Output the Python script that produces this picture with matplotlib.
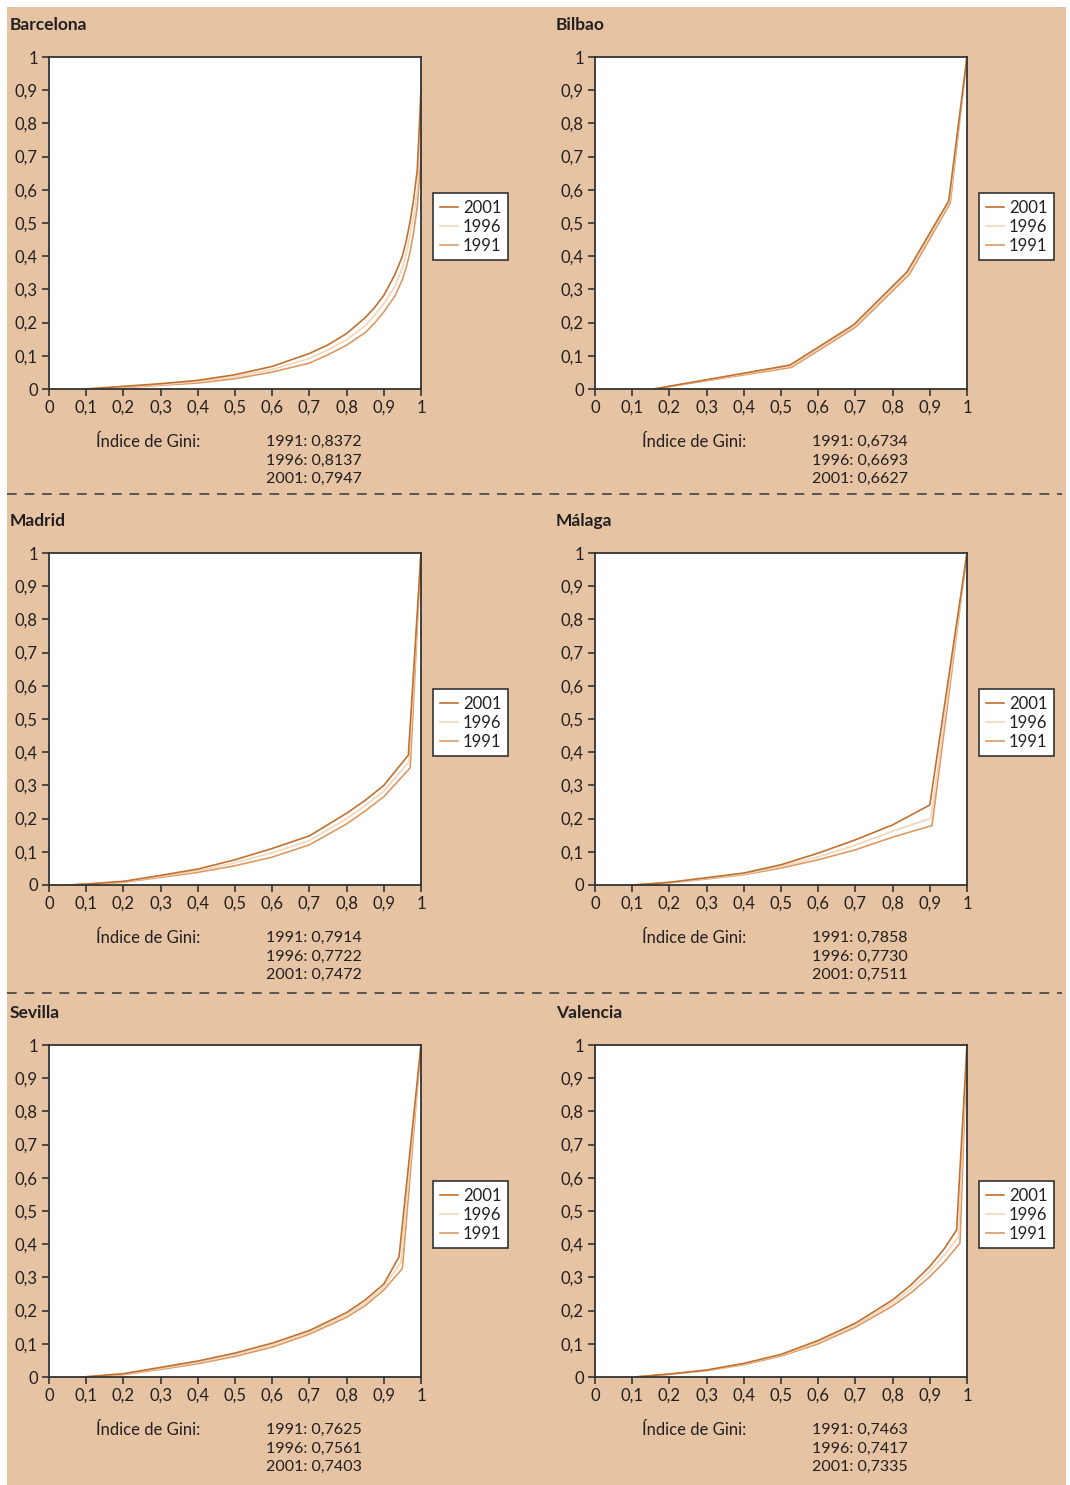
import numpy as np
import matplotlib
matplotlib.use("Agg")
import matplotlib.pyplot as plt
from matplotlib.patches import Rectangle
from matplotlib.lines import Line2D

plt.rcParams['font.family'] = ['Lato', 'DejaVu Sans']

# Curvas de Lorenz (x, y por año)
years = ['2001', '1996', '1991']
colors = {'2001': '#C0712F', '1996': '#F3D5BC', '1991': '#DC9A62'}

xs_10 = [0.2, 0.3, 0.4, 0.5, 0.6, 0.7, 0.8, 0.9]

barcelona_x = [0.2, 0.3, 0.4, 0.5, 0.6, 0.7, 0.75, 0.8, 0.85, 0.875, 0.9, 0.93, 0.95, 0.96,
               0.97, 0.98, 0.99, 1.0]
barcelona = {
    '2001': ([0.097] + barcelona_x, [0, 0.008, 0.016, 0.026, 0.043, 0.068, 0.107, 0.133, 0.167, 0.215,
                                     0.245, 0.282, 0.345, 0.40, 0.445, 0.50, 0.57, 0.66, 0.90]),
    '1996': ([0.12] + barcelona_x, [0, 0.006, 0.013, 0.022, 0.037, 0.059, 0.092, 0.118, 0.149, 0.19,
                                    0.222, 0.257, 0.31, 0.365, 0.405, 0.46, 0.52, 0.60, 0.80]),
    '1991': ([0.143] + barcelona_x, [0, 0.004, 0.011, 0.018, 0.031, 0.051, 0.078, 0.103, 0.132, 0.17,
                                     0.198, 0.232, 0.28, 0.33, 0.365, 0.41, 0.47, 0.55, 0.70]),
}
bilbao = {
    '2001': ([0.158, 0.524, 0.695, 0.839, 0.951, 1.0], [0, 0.072, 0.193, 0.353, 0.567, 1.0]),
    '1996': ([0.158, 0.526, 0.698, 0.842, 0.953, 1.0], [0, 0.069, 0.190, 0.349, 0.564, 1.0]),
    '1991': ([0.158, 0.528, 0.700, 0.845, 0.955, 1.0], [0, 0.065, 0.186, 0.345, 0.560, 1.0]),
}
madrid_x = [0.1, 0.2, 0.3, 0.4, 0.5, 0.6, 0.7, 0.8, 0.85, 0.9]
madrid = {
    '2001': ([0.055] + madrid_x + [0.966, 1.0], [0, 0.003, 0.011, 0.029, 0.048, 0.076, 0.110, 0.148, 0.216, 0.255, 0.300, 0.391, 1.0]),
    '1996': ([0.058] + madrid_x + [0.968, 1.0], [0, 0.0025, 0.0095, 0.026, 0.043, 0.067, 0.097, 0.134, 0.200, 0.239, 0.283, 0.371, 1.0]),
    '1991': ([0.06] + madrid_x + [0.971, 1.0], [0, 0.002, 0.008, 0.023, 0.038, 0.058, 0.084, 0.121, 0.184, 0.223, 0.266, 0.353, 1.0]),
}
malaga = {
    '2001': ([0.103] + xs_10 + [1.0], [0, 0.008, 0.022, 0.036, 0.061, 0.096, 0.136, 0.181, 0.241, 1.0]),
    '1996': ([0.103] + xs_10[:-1] + [0.903, 1.0], [0, 0.0075, 0.020, 0.033, 0.056, 0.085, 0.120, 0.162, 0.201, 1.0]),
    '1991': ([0.103] + xs_10[:-1] + [0.906, 1.0], [0, 0.007, 0.018, 0.031, 0.051, 0.076, 0.106, 0.144, 0.179, 1.0]),
}
sevilla_x = [0.2, 0.3, 0.4, 0.5, 0.6, 0.7, 0.8, 0.85, 0.9]
sevilla = {
    '2001': ([0.091] + sevilla_x + [0.941, 1.0], [0, 0.010, 0.029, 0.048, 0.072, 0.102, 0.140, 0.194, 0.232, 0.280, 0.362, 1.0]),
    '1996': ([0.095] + sevilla_x + [0.946, 1.0], [0, 0.0085, 0.026, 0.044, 0.067, 0.096, 0.135, 0.187, 0.223, 0.271, 0.345, 1.0]),
    '1991': ([0.10] + sevilla_x + [0.950, 1.0], [0, 0.007, 0.023, 0.040, 0.062, 0.090, 0.129, 0.180, 0.215, 0.262, 0.327, 1.0]),
}
valencia_x = [0.2, 0.3, 0.4, 0.5, 0.6, 0.7, 0.8, 0.85, 0.9, 0.94]
valencia = {
    '2001': ([0.108] + valencia_x + [0.972, 1.0], [0, 0.009, 0.021, 0.041, 0.068, 0.110, 0.162, 0.232, 0.278, 0.333, 0.388, 0.443, 1.0]),
    '1996': ([0.108] + valencia_x + [0.977, 1.0], [0, 0.0085, 0.020, 0.039, 0.0655, 0.105, 0.156, 0.223, 0.266, 0.318, 0.368, 0.423, 1.0]),
    '1991': ([0.108] + valencia_x + [0.981, 1.0], [0, 0.008, 0.019, 0.037, 0.063, 0.100, 0.150, 0.214, 0.254, 0.302, 0.348, 0.403, 1.0]),
}

cities = ['Barcelona', 'Bilbao', 'Madrid', 'Málaga', 'Sevilla', 'Valencia']
curves = [barcelona, bilbao, madrid, malaga, sevilla, valencia]
gini = [
    ['1991: 0,8372', '1996: 0,8137', '2001: 0,7947'],
    ['1991: 0,6734', '1996: 0,6693', '2001: 0,6627'],
    ['1991: 0,7914', '1996: 0,7722', '2001: 0,7472'],
    ['1991: 0,7858', '1996: 0,7730', '2001: 0,7511'],
    ['1991: 0,7625', '1996: 0,7561', '2001: 0,7403'],
    ['1991: 0,7463', '1996: 0,7417', '2001: 0,7335'],
]

ticks = [0, 0.1, 0.2, 0.3, 0.4, 0.5, 0.6, 0.7, 0.8, 0.9, 1]
tick_labels = ['0', '0,1', '0,2', '0,3', '0,4', '0,5', '0,6', '0,7', '0,8', '0,9', '1']

W, H = 1070, 1485
bg = '#E6C3A3'
txt = '#231F20'

fig = plt.figure(figsize=(W / 100, H / 100), dpi=100)
fig.patch.set_facecolor('white')
fig.patches.append(Rectangle((7 / W, 0), (1066 - 7) / W, 1 - 7 / H, transform=fig.transFigure,
                             facecolor=bg, edgecolor='none', zorder=-10))

col_left = [49, 595]
row_top = [57, 553, 1045]
ax_w, ax_h = 372, 332

for i, city in enumerate(cities):
    r, c = divmod(i, 2)
    left = col_left[c]
    top = row_top[r]
    ax = fig.add_axes([left / W, 1 - (top + ax_h) / H, ax_w / W, ax_h / H])
    ax.set_facecolor('white')
    data = curves[i]
    for yr in ['1991', '1996', '2001']:
        x, y = data[yr]
        ax.plot(x, y, color=colors[yr], lw=1.2, solid_joinstyle='round')
    ax.set_xlim(0, 1)
    ax.set_ylim(0, 1)
    ax.set_xticks(ticks)
    ax.set_xticklabels(tick_labels)
    ax.set_yticks(ticks)
    ax.set_yticklabels(tick_labels)
    ax.tick_params(direction='out', length=5, width=1.2, color='#333333', labelsize=12,
                   labelcolor=txt, pad=3)
    for s in ax.spines.values():
        s.set_color('#333333')
        s.set_linewidth(1.3)

    handles = [Line2D([], [], color=colors[yr], lw=1.2) for yr in years]
    leg = ax.legend(handles, years, loc='upper left', bbox_to_anchor=(1.032, 0.59),
                    frameon=True, fancybox=False, framealpha=1, fontsize=12, handlelength=1.1,
                    handletextpad=0.3, borderpad=0.4, labelspacing=0.18,
                    borderaxespad=0)
    leg.get_frame().set_edgecolor('#333333')
    leg.get_frame().set_linewidth(1.2)
    for t in leg.get_texts():
        t.set_color(txt)

    # título de la ciudad
    fig.text((10 + 546 * c) / W, 1 - (top - 32) / H, city, fontsize=12.5, fontweight='bold',
             color=txt, va='center', ha='left')
    # índice de Gini
    base = top + ax_h + 53
    fig.text((96 + 546 * c) / W, 1 - base / H, 'Índice de Gini:', fontsize=12,
             color=txt, va='center', ha='left')
    for k, line in enumerate(gini[i]):
        fig.text((362 + 546 * c) / W, 1 - (base + 18.5 * k) / H, line, fontsize=11.5,
                 color=txt, va='center', ha='right')

# separadores
for yy in [494, 993]:
    fig.add_artist(Line2D([7 / W, 1062 / W], [1 - yy / H, 1 - yy / H], transform=fig.transFigure,
                          color='#5A5550', lw=1.4, linestyle=(0, (5, 4))))

fig.savefig('out.png', dpi=100, facecolor=fig.get_facecolor())
